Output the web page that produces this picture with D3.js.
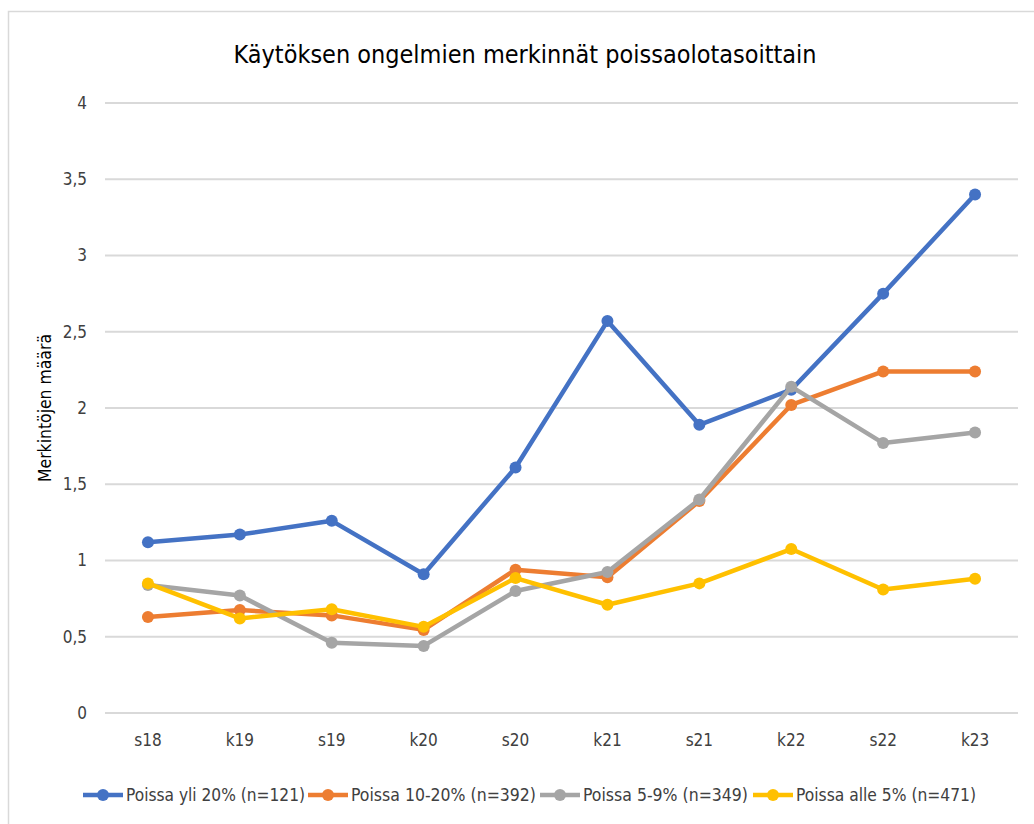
<!DOCTYPE html>
<html>
<head>
<meta charset="utf-8">
<script src="https://cdn.jsdelivr.net/npm/d3@7"></script>
<style>
  body { margin: 0; background: #fff; }
  text { font-family: "Liberation Sans Narrow", "DejaVu Sans Condensed", "Roboto", sans-serif; }
</style>
</head>
<body>
<div id="chart"></div>
<script>
// data
var periods = ["s18", "k19", "s19", "k20", "s20", "k21", "s21", "k22", "s22", "k23"];
var seriesNames = ["Poissa yli 20% (n=121)", "Poissa 10-20% (n=392)", "Poissa 5-9% (n=349)", "Poissa alle 5% (n=471)"];
var yli20 = [1.12, 1.17, 1.26, 0.91, 1.61, 2.57, 1.89, 2.12, 2.75, 3.40];
var p10_20 = [0.63, 0.675, 0.64, 0.545, 0.94, 0.89, 1.39, 2.02, 2.24, 2.24];
var p5_9 = [0.84, 0.77, 0.46, 0.44, 0.80, 0.925, 1.40, 2.14, 1.77, 1.84];
var alle5 = [0.85, 0.62, 0.68, 0.565, 0.885, 0.71, 0.85, 1.075, 0.81, 0.88];
var yTicks = [0, 0.5, 1, 1.5, 2, 2.5, 3, 3.5, 4];
var colors = ["#4472C4", "#ED7D31", "#A5A5A5", "#FFC000"];

var series = [yli20, p10_20, p5_9, alle5];

var W = 1034, H = 824;
var margin = {top: 103, right: 13, bottom: 111, left: 102};
var width = W - margin.left - margin.right,
    height = H - margin.top - margin.bottom;

var svg = d3.select("#chart")
  .append("svg")
    .attr("width", W)
    .attr("height", H);

// chart frame
svg.append("rect")
  .attr("x", 8.5).attr("y", 11.5)
  .attr("width", W + 10).attr("height", H + 10)
  .attr("fill", "none")
  .attr("stroke", "#D9D9D9")
  .attr("stroke-width", 1.5);

// title
svg.append("text")
  .attr("x", 525).attr("y", 63)
  .attr("text-anchor", "middle")
  .attr("font-size", 24)
  .attr("fill", "#000")
  .attr("textLength", 583)
  .attr("lengthAdjust", "spacingAndGlyphs")
  .text("Käytöksen ongelmien merkinnät poissaolotasoittain");

var g = svg.append("g")
  .attr("transform", "translate(" + margin.left + "," + margin.top + ")");

var x = d3.scaleBand()
  .domain(periods)
  .range([0, width]);

var y = d3.scaleLinear()
  .domain([0, 4])
  .range([height, 0]);

// gridlines
g.append("g")
  .selectAll("line")
  .data(yTicks)
  .enter()
  .append("line")
    .attr("x1", 3).attr("x2", width - 3)
    .attr("y1", function (d) { return y(d); })
    .attr("y2", function (d) { return y(d); })
    .attr("stroke", "#D9D9D9")
    .attr("stroke-width", 2);

// y axis labels
var fmt = function (d) { return String(d).replace(".", ","); };
var yAxis = g.append("g")
  .call(d3.axisLeft(y).tickValues(yTicks).tickFormat(fmt).tickSize(0).tickPadding(15));
yAxis.select(".domain").remove();
yAxis.selectAll("text")
  .attr("font-size", 17)
  .attr("fill", "#404040")
  .style("font-family", "\"Liberation Sans Narrow\", \"DejaVu Sans Condensed\", sans-serif");

// x axis labels
var xAxis = g.append("g")
  .attr("transform", "translate(0," + height + ")")
  .call(d3.axisBottom(x).tickSize(0).tickPadding(21));
xAxis.select(".domain").remove();
xAxis.selectAll("text")
  .attr("font-size", 17)
  .attr("fill", "#404040")
  .style("font-family", "\"Liberation Sans Narrow\", \"DejaVu Sans Condensed\", sans-serif");

// y axis title
svg.append("text")
  .attr("transform", "translate(51," + (margin.top + height / 2) + ") rotate(-90)")
  .attr("text-anchor", "middle")
  .attr("font-size", 17)
  .attr("fill", "#000")
  .style("font-family", "\"DejaVu Sans\", sans-serif")
  .attr("textLength", 148)
  .attr("lengthAdjust", "spacingAndGlyphs")
  .text("Merkintöjen määrä");

var line = d3.line()
  .x(function (d, i) { return x(periods[i]) + x.bandwidth() / 2; })
  .y(function (d) { return y(d); });

series.forEach(function (vals, si) {
  g.append("path")
    .datum(vals)
    .attr("fill", "none")
    .attr("stroke", colors[si])
    .attr("stroke-width", 4.5)
    .attr("stroke-linejoin", "round")
    .attr("d", line);
  g.append("g")
    .selectAll("circle")
    .data(vals)
    .enter()
    .append("circle")
      .attr("cx", function (d, i) { return x(periods[i]) + x.bandwidth() / 2; })
      .attr("cy", function (d) { return y(d); })
      .attr("r", 6)
      .attr("fill", colors[si]);
});

// legend
var legendX = [83, 308, 540, 753];
var textW = [179, 185, 165, 180];
var legend = svg.append("g").attr("transform", "translate(0,795)");
seriesNames.forEach(function (name, i) {
  var lg = legend.append("g").attr("transform", "translate(" + legendX[i] + ",0)");
  lg.append("line")
    .attr("x1", 0).attr("x2", 40)
    .attr("y1", 0).attr("y2", 0)
    .attr("stroke", colors[i])
    .attr("stroke-width", 4.5);
  lg.append("circle")
    .attr("cx", 20).attr("cy", 0).attr("r", 6)
    .attr("fill", colors[i]);
  lg.append("text")
    .attr("x", 43).attr("y", 6)
    .attr("font-size", 17)
    .attr("fill", "#404040")
    .attr("textLength", textW[i])
    .attr("lengthAdjust", "spacingAndGlyphs")
    .text(name);
});
</script>
</body>
</html>
